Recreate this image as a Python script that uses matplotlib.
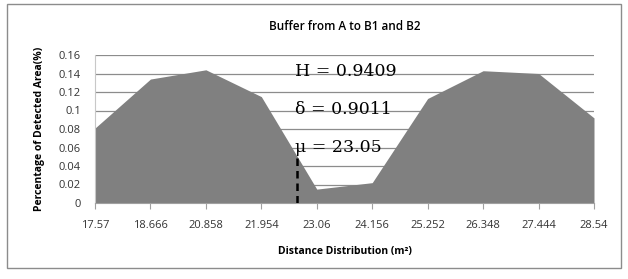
import matplotlib
matplotlib.use("Agg")
import numpy as np
from matplotlib import pyplot as plt
from matplotlib.patches import Rectangle

# categories on the x axis (distance distribution)
categories = ["17.57", "18.666", "20.858", "21.954", "23.06",
              "24.156", "25.252", "26.348", "27.444", "28.54"]
# percentage of detected area
values = [0.081, 0.134, 0.144, 0.115, 0.015,
          0.022, 0.113, 0.143, 0.140, 0.092]
y_ticks = [0, 0.02, 0.04, 0.06, 0.08, 0.1, 0.12, 0.14, 0.16]
y_tick_labels = ["0", "0.02", "0.04", "0.06", "0.08", "0.1", "0.12", "0.14", "0.16"]
# position of the mean marker, in category units
mu_pos = 3.65
stats = ["H = 0.9409", "\u03b4 = 0.9011", "\u03bc = 23.05"]

plt.rcParams['font.family'] = ['Open Sans', 'DejaVu Sans']

fig = plt.figure(figsize=(6.28, 2.79), dpi=100)
fig.patches.append(Rectangle((7/628, 1-268/279), 614/628, 264/279,
                             transform=fig.transFigure, fill=False,
                             edgecolor='#8c8c8c', linewidth=1.0))

ax = fig.add_axes([95/628, 1-203/279, 499/628, 148/279])
x = np.arange(len(categories))
ax.fill_between(x, values, 0, color='#808080', linewidth=0, zorder=2)
for yv in y_ticks[1:]:
    ax.axhline(yv, color='#8c8c8c', linewidth=0.9, zorder=1)

# dashed line at mu up to the area edge
mu_y = np.interp(mu_pos, x, values)
ax.plot([mu_pos, mu_pos], [0, mu_y], color='black', linestyle=(0, (3, 2)),
        linewidth=1.8, zorder=3)

ax.set_xlim(0, len(categories) - 1)
ax.set_ylim(0, 0.16)
ax.set_xticks(x)
ax.set_xticklabels(categories, fontsize=8, color='#333333')
ax.set_yticks(y_ticks)
ax.set_yticklabels(y_tick_labels, fontsize=8, color='#333333')
ax.tick_params(axis='x', direction='out', length=4, color='#a0a0a0', pad=8)
ax.tick_params(axis='y', length=0, pad=10)
for s in ['top', 'right']:
    ax.spines[s].set_visible(False)
ax.spines['left'].set_color('#c8c8c8')
ax.spines['bottom'].set_color('#a0a0a0')

ax.set_xlabel("Distance Distribution (m\u00b2)", fontsize=7.5, fontweight='bold',
              labelpad=11)
ax.set_ylabel("Percentage of Detected Area(%)", fontsize=7.5, fontweight='bold',
              labelpad=10)
ax.set_title("Buffer from A to B1 and B2", fontsize=8.5, fontweight='semibold', pad=18)

for i, s in enumerate(stats):
    fig.text(295/628, 1 - (72 + 38*i)/279, s, fontsize=12.5,
             family='DejaVu Serif', va='center', ha='left')

plt.savefig("out.png", dpi=100)
